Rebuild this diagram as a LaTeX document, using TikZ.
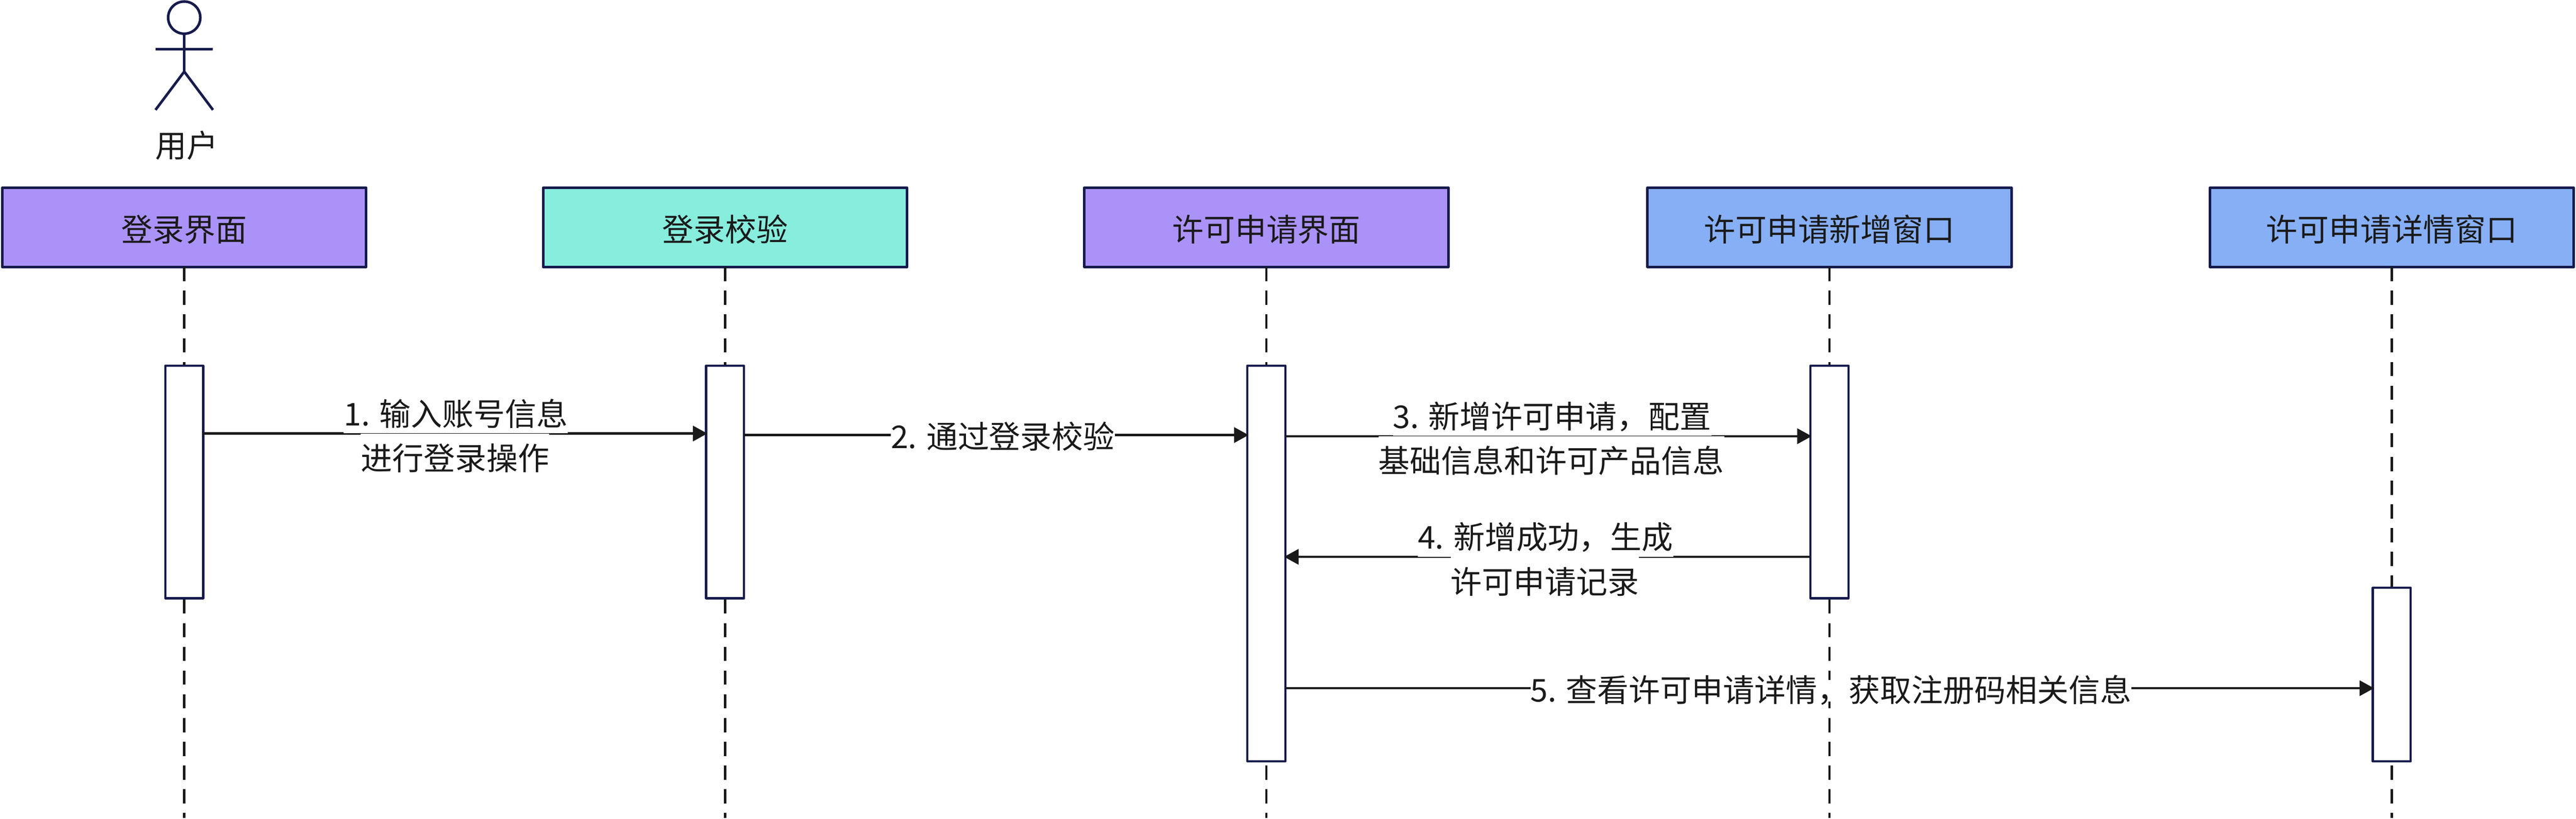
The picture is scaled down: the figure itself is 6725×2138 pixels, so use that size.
\documentclass[tikz,border=0pt]{standalone}
\usepackage{fontspec}
\setmainfont{Noto Sans CJK SC}
\usetikzlibrary{arrows.meta}
\definecolor{navy}{HTML}{161B4D}
\definecolor{ink}{HTML}{1A1A1A}
\definecolor{purp}{HTML}{AB92F8}
\definecolor{teal2}{HTML}{87EDDD}
\definecolor{blue2}{HTML}{87AFF5}
\tikzset{
 head/.style={rectangle,draw=navy,line width=1.7pt,line join=round,minimum width=237.5pt,minimum height=51.75pt,inner sep=0pt,outer sep=0pt,text=ink,font=\fontsize{20.5pt}{24pt}\selectfont,text height=35pt,text depth=16.75pt},
 activation/.style={rectangle,draw=navy,fill=white,line width=1.5pt,line join=round,minimum width=24.75pt,inner sep=0pt,outer sep=0pt},
 life/.style={draw=ink,line width=1.5pt,dash pattern=on 9.25pt off 6.25pt},
 figure/.style={draw=navy,line width=1.7pt},
 msg/.style={draw=ink,line width=1.5pt,-{Triangle[length=9.5pt,width=10pt]},shorten >=-0.8pt},
 txt/.style={fill=white,inner sep=0pt,outer sep=0pt,text=ink,font=\fontsize{20.5pt}{24pt}\selectfont,text height=23.75pt,text depth=5pt},
 up/.style={txt,anchor=south},
 down/.style={txt,anchor=north},
 single/.style={txt,text height=14pt,text depth=-1pt},
}
\begin{document}
\begin{tikzpicture}[x=0.25pt,y=-0.25pt]
\useasboundingbox (0,0) rectangle (6725,2138);
% actor
\node[circle,draw=navy,line width=1.7pt,minimum size=21pt,inner sep=0pt,outer sep=0pt] (hd) at (481,46) {};
\coordinate (hip) at (481,187);
\coordinate (armL) at (406,128);
\coordinate (armR) at (556,128);
\coordinate (legL) at (406,287);
\coordinate (legR) at (556,287);
\draw[figure] (hd.south) -- (hip);
\draw[figure] (armL) -- (armR);
\draw[figure] (legL) -- (hip) -- (legR);
\node[text=ink,inner sep=0pt,font=\fontsize{20.5pt}{24pt}\selectfont] (usr) at (487,380) {用户};
% lifeline heads
\node[head,fill=purp]  (h1) at (481,593.5)  {登录界面};
\node[head,fill=teal2] (h2) at (1893,593.5) {登录校验};
\node[head,fill=purp]  (h3) at (3306,593.5) {许可申请界面};
\node[head,fill=blue2] (h4) at (4776,593.5) {许可申请新增窗口};
\node[head,fill=blue2] (h5) at (6244,593.5) {许可申请详情窗口};
% lifeline ends
\coordinate (e1) at (481,2136);
\coordinate (e2) at (1893,2136);
\coordinate (e3) at (3306,2136);
\coordinate (e4) at (4776,2136);
\coordinate (e5) at (6244,2136);
\foreach \i in {1,...,5} \draw[life] (h\i.south) -- (e\i);
% activations
\node[activation,minimum height=151.75pt] (a1) at (481,1258.5)  {};
\node[activation,minimum height=151.75pt] (a2) at (1893,1258.5) {};
\node[activation,minimum height=258.25pt] (a3) at (3306,1471.5) {};
\node[activation,minimum height=151.75pt] (a4) at (4776,1258.5) {};
\node[activation,minimum height=113.25pt] (a5) at (6244,1761.5) {};
% message levels
\coordinate (y1) at (0,1132);
\coordinate (y2) at (0,1136);
\coordinate (y3) at (0,1139);
\coordinate (y4) at (0,1454);
\coordinate (y5) at (0,1797);
\draw[msg] (a1.east |- y1) -- (a2.west |- y1);
\draw[msg] (a2.east |- y2) -- (a3.west |- y2);
\draw[msg] (a3.east |- y3) -- (a4.west |- y3);
\draw[msg] (a4.west |- y4) -- (a3.east |- y4);
\draw[msg] (a3.east |- y5) -- (a5.west |- y5);
% labels
\node[up]   (m1a) at (1190,1131.5) {1. 输入账号信息};
\node[down] (m1b) at (1188,1132.5) {进行登录操作};
\node[single] (m2)  at (2618,1143) {2. 通过登录校验};
\node[up]   (m3a) at (4052,1138.5) {3. 新增许可申请，配置};
\node[down] (m3b) at (4050,1139.5) {基础信息和许可产品信息};
\node[up]   (m4a) at (4035,1453.5) {4. 新增成功，生成};
\node[down] (m4b) at (4033,1454.5) {许可申请记录};
\node[single] (m5)  at (4780,1804) {5. 查看许可申请详情，获取注册码相关信息};
\end{tikzpicture}
\end{document}
